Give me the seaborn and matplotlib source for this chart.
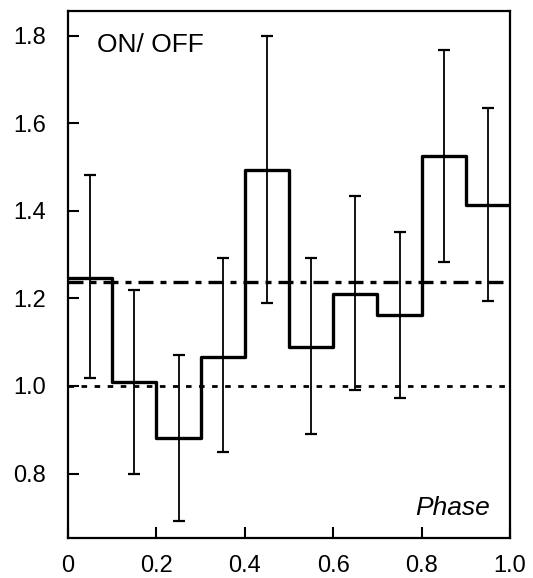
import matplotlib
matplotlib.use("Agg")
import matplotlib.pyplot as plt
import seaborn as sns
import numpy as np
import pandas as pd

# Data
bin_edges = [0.0, 0.1, 0.2, 0.3, 0.4, 0.5, 0.6, 0.7, 0.8, 0.9, 1.0]
ratio = [1.247, 1.010, 0.882, 1.067, 1.494, 1.089, 1.209, 1.163, 1.524, 1.412]
err_upper = [1.482, 1.220, 1.071, 1.293, 1.799, 1.293, 1.434, 1.352, 1.766, 1.634]
err_lower = [1.018, 0.800, 0.692, 0.850, 1.189, 0.890, 0.991, 0.972, 1.284, 1.193]
mean_level = 1.237
unity_level = 1.0
x_ticks = [0, 0.2, 0.4, 0.6, 0.8, 1.0]
x_tick_labels = ["0", "0.2", "0.4", "0.6", "0.8", "1.0"]
y_ticks = [0.8, 1.0, 1.2, 1.4, 1.6, 1.8]
y_tick_labels = ["0.8", "1.0", "1.2", "1.4", "1.6", "1.8"]

sns.set_style("ticks")
plt.rcParams['font.family'] = ['Liberation Sans', 'DejaVu Sans']
plt.rcParams['text.color'] = 'black'
plt.rcParams['xtick.color'] = 'black'
plt.rcParams['ytick.color'] = 'black'
plt.rcParams['xtick.labelcolor'] = 'black'
plt.rcParams['ytick.labelcolor'] = 'black'

fig = plt.figure(figsize=(5.33, 5.78), dpi=100)
ax = fig.add_axes([0.1276, 0.0692, 0.8294, 0.9118])

centers = [(bin_edges[i] + bin_edges[i + 1]) / 2 for i in range(len(ratio))]

# reference lines
ax.axhline(unity_level, color='black', lw=2.0, linestyle=(0, (2.0, 2.7)), zorder=1)
ax.axhline(mean_level, color='black', lw=2.4, linestyle=(0, (4.5, 2.1, 1.8, 2.1)), zorder=1)

# step histogram
step_df = pd.DataFrame({"phase": bin_edges, "ratio": ratio + [ratio[-1]]})
sns.lineplot(data=step_df, x="phase", y="ratio", drawstyle="steps-post",
             estimator=None, color="black", lw=2.4, ax=ax, zorder=3)

# error bars
c = np.array(centers)
r = np.array(ratio)
yerr = np.vstack([r - np.array(err_lower), np.array(err_upper) - r])
ax.errorbar(c, r, yerr=yerr, fmt='none', ecolor='black', elinewidth=1.3,
            capsize=4.5, capthick=1.6, zorder=4)

ax.set_xlim(0, 1.0)
ax.set_ylim(0.653, 1.856)
ax.set_xticks(x_ticks)
ax.set_xticklabels(x_tick_labels)
ax.set_yticks(y_ticks)
ax.set_yticklabels(y_tick_labels)
ax.set_xlabel("")
ax.set_ylabel("")

ax.tick_params(axis='both', direction='in', length=8, width=1.5, labelsize=17,
               top=False, right=False, colors='black')
ax.tick_params(axis='y', pad=16)
ax.tick_params(axis='x', pad=12.5)

for s in ax.spines.values():
    s.set_visible(True)
    s.set_linewidth(1.6)
    s.set_color('black')

ax.text(0.066, 0.958, "ON/ OFF", transform=ax.transAxes, fontsize=19,
        ha='left', va='top', color='black')
ax.text(0.955, 0.044, "Phase", transform=ax.transAxes, fontsize=19,
        ha='right', va='baseline', style='italic', color='black')

fig.savefig("out.png", dpi=100)
